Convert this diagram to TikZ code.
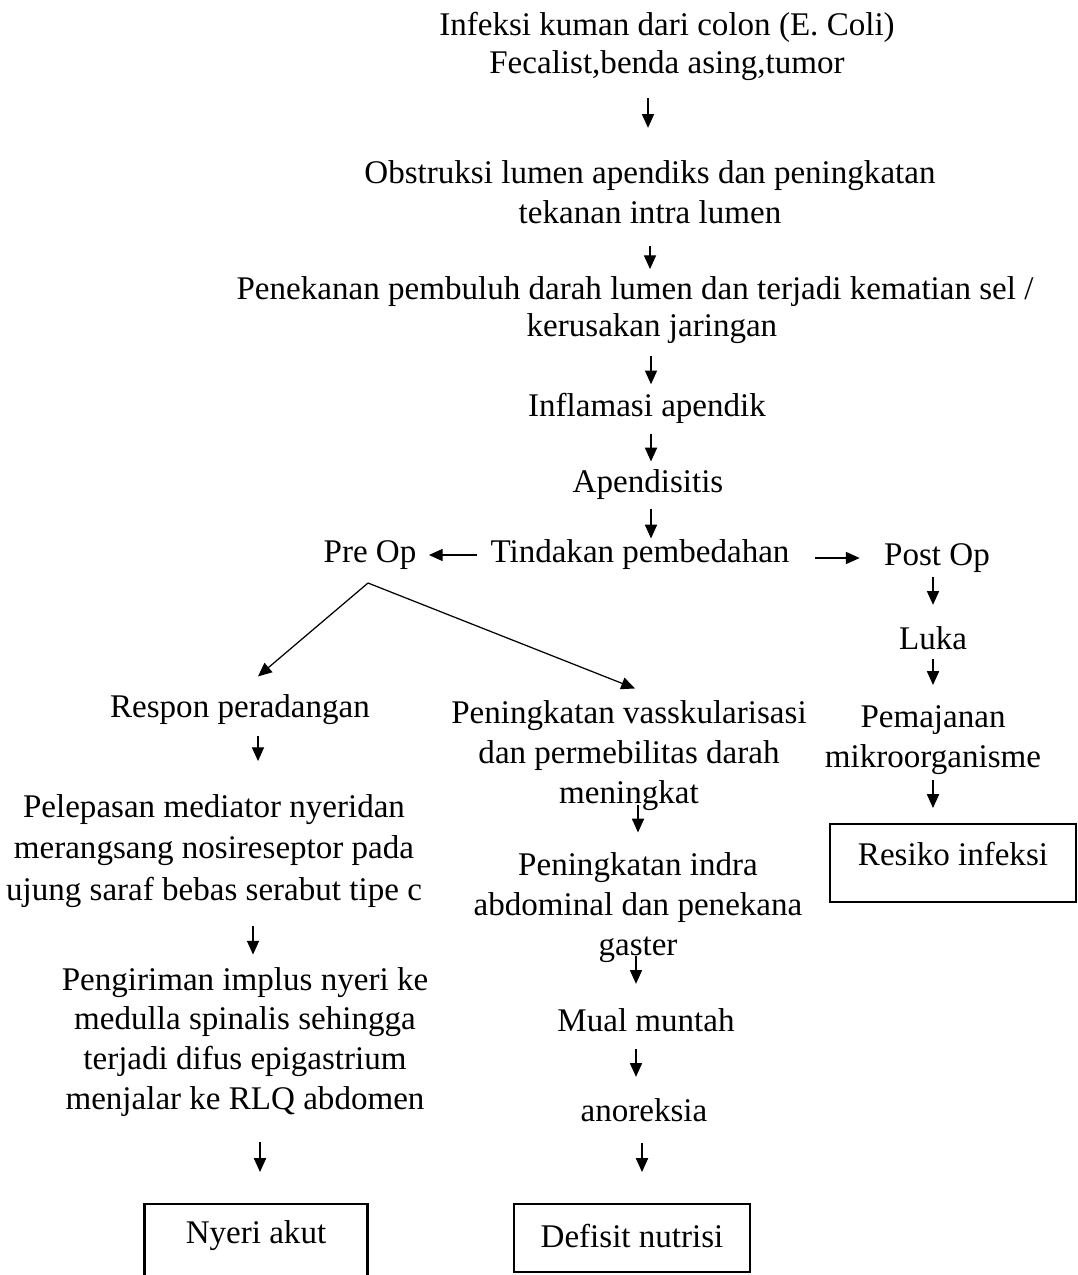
\documentclass[tikz,border=0pt]{standalone}
\usepackage{fontspec}
\setmainfont{Liberation Serif}
\usetikzlibrary{positioning,arrows.meta}
\newdimen\pxu
\pxu=0.363pt

\begin{document}
\begin{tikzpicture}[x=0.363pt,y=-0.363pt,
  txt/.style={font=\fontsize{12}{14.5}\selectfont,inner sep=0pt,align=center},
  box/.style={txt,draw,line width=0.75pt,anchor=north},
  arr/.style={-{Triangle[length=5pt,width=4.4pt]},line width=0.45pt}]
\useasboundingbox (0,0) rectangle (1077,1275);

% main chain
\node[txt,font=\fontsize{12}{13.8}\selectfont] (infeksi) at (667,46) {Infeksi kuman dari colon (E. Coli)\\Fecalist,benda asing,tumor};
\node[txt] (obstruksi) at (650,192) {Obstruksi lumen apendiks dan peningkatan\\tekanan intra lumen};
\node[txt,font=\fontsize{12}{13.3}\selectfont] (penekanan) at (635,310) {Penekanan pembuluh darah lumen dan terjadi kematian sel /\\\hspace*{12.3pt}kerusakan jaringan};
\node[txt] (inflamasi) at (647,408) {Inflamasi apendik};
\node[txt] (apendisitis) at (648,485) {Apendisitis};
\node[txt] (tindakan) at (640,555) {Tindakan pembedahan};
\node[txt] (preop) at (370,555) {Pre Op};
\node[txt] (postop) at (937,558) {Post Op};
\coordinate (fork) at ([shift={(-2,13)}]preop.south);

\draw[arr,shorten <=17*\pxu,shorten >=32*\pxu] ([shift={(-19,0)}]infeksi.south) -- ([shift={(-19,0)}]infeksi.south |- obstruksi.north);
\draw[arr,shorten <=22*\pxu,shorten >=7*\pxu] (obstruksi.south) -- (obstruksi.south |- penekanan.north);
\draw[arr,shorten <=12*\pxu,shorten >=8*\pxu] ([shift={(16,0)}]penekanan.south) -- ([shift={(16,0)}]penekanan.south |- inflamasi.north);
\draw[arr,shorten <=10*\pxu,shorten >=8*\pxu] ([shift={(4,0)}]inflamasi.south) -- ([shift={(4,0)}]inflamasi.south |- apendisitis.north);
\draw[arr,shorten <=8*\pxu,shorten >=1*\pxu] ([shift={(3,0)}]apendisitis.south) -- ([shift={(3,0)}]apendisitis.south |- tindakan.north);
\draw[arr,shorten <=13*\pxu,shorten >=12*\pxu] (tindakan.west) -- (tindakan.west -| preop.east);
\draw[arr,shorten <=25*\pxu,shorten >=24*\pxu] ([shift={(0,3)}]tindakan.east) -- ([shift={(0,3)}]tindakan.east -| postop.west);

% post op
\node[txt] (luka) at (933,638) {Luka};
\node[txt] (pemajanan) at (933,740) {Pemajanan\\mikroorganisme};
\node[box,minimum width=246*\pxu,text height=14.9pt,text depth=13.4pt] (resiko) at (953,823) {Resiko infeksi};

\draw[arr,shorten <=4*\pxu,shorten >=21*\pxu] ([shift={(-4,0)}]postop.south) -- ([shift={(-4,0)}]postop.south |- luka.north);
\draw[arr,shorten <=9*\pxu,shorten >=20*\pxu] (luka.south) -- (luka.south |- pemajanan.north);
\draw[arr,shorten <=5*\pxu,shorten >=15*\pxu] (pemajanan.south) -- (pemajanan.south |- resiko.north);

% pre op, kiri
\node[txt] (respon) at (240,710) {Respon peradangan};
\node[txt,font=\fontsize{12}{15}\selectfont] (pelepasan) at (214,851) {Pelepasan mediator nyeridan\\merangsang nosireseptor pada\\ujung saraf bebas serabut tipe c};
\node[txt] (pengiriman) at (245,1042) {Pengiriman implus nyeri ke\\medulla spinalis sehingga\\terjadi difus epigastrium\\menjalar ke RLQ abdomen};
\node[box,minimum width=223*\pxu,text height=14.5pt,text depth=25pt] (nyeri) at (256,1203) {Nyeri akut};

\draw[arr] (fork) -- ([shift={(18,-18)}]respon.north);
\draw[arr,shorten <=10*\pxu,shorten >=33*\pxu] ([shift={(18,0)}]respon.south) -- ([shift={(18,0)}]respon.south |- pelepasan.north);
\draw[arr,shorten <=18*\pxu,shorten >=12*\pxu] ([shift={(39,0)}]pelepasan.south) -- ([shift={(39,0)}]pelepasan.south |- pengiriman.north);
\draw[arr,shorten <=25*\pxu,shorten >=31*\pxu] ([shift={(15,0)}]pengiriman.south) -- ([shift={(15,0)}]pengiriman.south |- nyeri.north);

% pre op, tengah
\node[txt] (vaskular) at (629,756) {Peningkatan vasskularisasi\\dan permebilitas darah\\meningkat};
\node[txt] (indra) at (638,908) {Peningkatan indra\\abdominal dan penekana\\gaster};
\node[txt] (mual) at (646,1020) {Mual muntah};
\node[txt] (anoreksia) at (644,1110) {anoreksia};
\node[box,minimum width=236*\pxu,text height=15.6pt,text depth=9pt] (defisit) at (632,1203) {Defisit nutrisi};

\draw[arr] (fork) -- ([shift={(6,-12)}]vaskular.north);
\draw[arr,shorten <=-7*\pxu,shorten >=20*\pxu] ([shift={(9,0)}]vaskular.south) -- ([shift={(9,0)}]vaskular.south |- indra.north);
\draw[arr,shorten <=-8*\pxu,shorten >=24*\pxu] ([shift={(-2,0)}]indra.south) -- ([shift={(-2,0)}]indra.south |- mual.north);
\draw[arr,shorten <=17*\pxu,shorten >=21*\pxu] ([shift={(-10,0)}]mual.south) -- ([shift={(-10,0)}]mual.south |- anoreksia.north);
\draw[arr,shorten <=21*\pxu,shorten >=31*\pxu] ([shift={(-2,0)}]anoreksia.south) -- ([shift={(-2,0)}]anoreksia.south |- defisit.north);

\end{tikzpicture}
\end{document}
